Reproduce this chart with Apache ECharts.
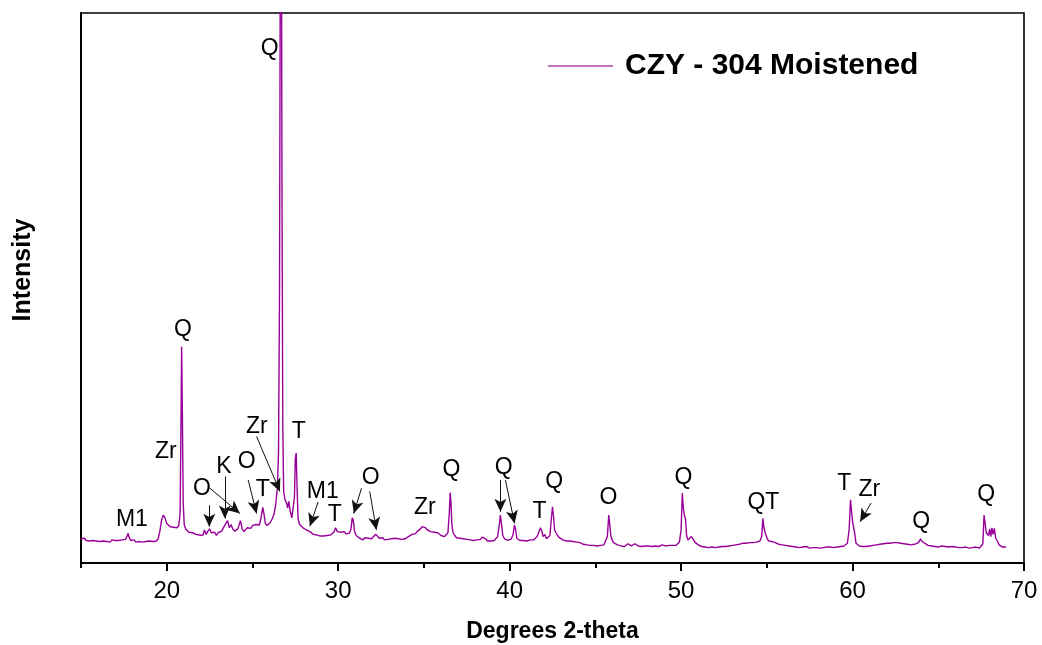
<!DOCTYPE html>
<html>
<head>
<meta charset="utf-8">
<title>CZY - 304 Moistened XRD</title>
<script src="https://cdn.jsdelivr.net/npm/echarts@6/dist/echarts.min.js"></script>
<style>
  html, body { margin: 0; padding: 0; background: #fff; }
  #chart { width: 1042px; height: 645px; }
</style>
</head>
<body>
<div id="chart"></div>
<script>
// Diffraction pattern: [2-theta (degrees), intensity (arb. units)]
const pattern = [
  [15.0,44],[15.1,42],[15.2,45],[15.3,41],[15.4,43],[15.5,40],[15.6,43],[15.7,41],[15.8,44],[15.9,40],
  [16.0,42],[16.1,39],[16.2,42],[16.3,40],[16.4,43],[16.5,39],[16.6,41],[16.7,38],[16.8,42],[16.9,39],
  [17.0,41],[17.1,38],[17.2,41],[17.3,39],[17.4,42],[17.5,40],[17.6,43],[17.7,50],[17.75,54],[17.8,47],
  [17.9,41],[18.0,39],[18.1,42],[18.2,38],[18.3,41],[18.4,39],[18.5,42],[18.6,38],[18.7,41],[18.8,39],
  [18.9,42],[19.0,40],[19.1,43],[19.2,39],[19.3,41],[19.4,40],[19.5,44],
  [19.6,58],[19.7,78],[19.8,87],[19.9,82],[20.0,72],[20.1,70],[20.2,66],[20.3,68],[20.4,65],[20.5,67],
  [20.6,64],[20.7,68],[20.78,90],[20.83,250],[20.87,393],[20.91,280],[20.96,110],[21.02,70],[21.1,62],
  [21.2,60],[21.3,56],[21.4,58],[21.5,55],[21.6,57],[21.7,52],[21.8,55],[21.9,51],[22.0,54],[22.1,50],
  [22.2,60],[22.3,52],[22.4,58],[22.5,62],[22.6,55],[22.7,52],[22.8,56],[22.9,50],[23.0,55],[23.1,53],
  [23.2,58],[23.3,60],[23.45,72],[23.55,77],[23.65,64],[23.75,70],[23.85,62],[23.95,58],[24.05,56],
  [24.15,62],[24.3,77],[24.4,62],[24.5,57],[24.6,60],[24.7,64],[24.8,66],[24.9,63],[25.0,68],[25.1,66],
  [25.2,70],[25.3,72],[25.4,69],[25.5,82],[25.6,101],[25.68,88],[25.75,72],[25.85,68],[25.95,70],
  [26.05,74],[26.15,80],[26.25,88],[26.35,105],[26.45,135],[26.52,200],[26.58,500],[26.63,1200],
  [26.68,1300],[26.72,700],[26.77,250],[26.82,130],[26.9,115],[27.0,108],[27.05,100],[27.12,112],
  [27.2,95],[27.3,82],[27.38,85],[27.45,120],[27.5,190],[27.55,200],[27.6,140],[27.66,80],[27.75,70],
  [27.85,72],[27.95,64],[28.05,66],[28.15,60],[28.25,62],[28.35,57],[28.45,55],[28.55,52],[28.65,50],
  [28.75,51],[28.85,48],[28.95,49],[29.05,47],[29.15,49],[29.25,48],[29.35,50],[29.45,49],[29.55,51],
  [29.65,52],[29.75,56],[29.85,64],[29.95,57],[30.05,55],[30.15,56],[30.25,54],[30.35,57],[30.45,53],
  [30.55,51],[30.65,54],[30.75,62],[30.82,82],[30.88,78],[30.95,58],[31.05,50],[31.15,48],[31.25,45],
  [31.35,47],[31.45,42],[31.55,46],[31.65,43],[31.75,45],[31.85,42],[31.95,44],[32.05,48],[32.2,52],
  [32.3,50],[32.4,45],[32.5,43],[32.6,46],[32.7,42],[32.8,44],[32.9,43],[33.0,46],[33.1,44],[33.2,47],
  [33.3,45],[33.4,47],[33.5,44],[33.6,45],[33.7,43],[33.8,42],[33.9,44],[34.0,45],[34.1,48],[34.2,50],
  [34.3,52],[34.4,55],[34.5,53],[34.6,57],[34.7,60],[34.8,62],[34.9,66],[35.0,67],[35.1,64],[35.2,60],
  [35.3,58],[35.4,57],[35.5,55],[35.6,56],[35.7,53],[35.8,55],[35.9,52],[36.0,50],[36.1,52],[36.2,48],
  [36.3,50],[36.4,55],[36.48,90],[36.53,128],[36.58,110],[36.63,70],[36.7,55],[36.8,50],[36.9,46],
  [37.0,44],[37.1,45],[37.2,42],[37.3,44],[37.4,41],[37.5,43],[37.6,45],[37.7,42],[37.8,43],[37.9,41],
  [38.0,44],[38.1,42],[38.2,45],[38.3,43],[38.4,47],[38.5,50],[38.6,44],[38.7,40],[38.8,41],[38.9,40],
  [39.0,42],[39.1,41],[39.2,44],[39.3,48],[39.4,70],[39.46,87],[39.52,72],[39.6,50],[39.7,44],[39.8,42],
  [39.9,41],[40.0,43],[40.1,44],[40.2,52],[40.28,69],[40.34,62],[40.42,45],[40.5,42],[40.6,41],[40.7,43],
  [40.8,41],[40.9,42],[41.0,40],[41.1,43],[41.2,42],[41.3,44],[41.4,42],[41.5,45],[41.6,48],[41.7,56],
  [41.8,64],[41.88,58],[41.95,48],[42.05,52],[42.15,44],[42.25,46],[42.35,50],[42.43,80],[42.5,102],
  [42.56,85],[42.62,60],[42.7,55],[42.8,50],[42.9,46],[43.0,44],[43.1,42],[43.2,41],[43.3,40],[43.4,38],
  [43.5,40],[43.6,37],[43.7,39],[43.8,36],[43.9,38],[44.0,35],[44.1,37],[44.2,36],[44.3,34],[44.4,36],
  [44.5,33],[44.6,35],[44.7,32],[44.8,34],[44.9,32],[45.0,33],[45.1,31],[45.2,34],[45.3,32],[45.4,34],
  [45.5,33],[45.6,36],[45.7,48],[45.78,87],[45.84,70],[45.9,50],[46.0,40],[46.1,36],[46.2,34],[46.3,33],
  [46.4,32],[46.5,31],[46.6,33],[46.7,30],[46.8,32],[46.9,35],[47.0,33],[47.1,31],[47.2,32],[47.3,35],
  [47.4,33],[47.5,31],[47.6,32],[47.7,30],[47.8,32],[47.9,31],[48.0,33],[48.1,31],[48.2,32],[48.3,30],
  [48.4,32],[48.5,31],[48.6,32],[48.7,30],[48.8,31],[48.9,33],[49.0,32],[49.1,31],[49.2,33],[49.3,32],
  [49.4,34],[49.5,32],[49.6,33],[49.7,32],[49.8,34],[49.9,38],[50.0,60],[50.07,127],[50.13,100],
  [50.2,85],[50.26,80],[50.32,50],[50.4,42],[50.5,45],[50.6,48],[50.7,44],[50.8,38],[50.9,35],[51.0,33],
  [51.1,31],[51.2,30],[51.3,28],[51.4,29],[51.5,27],[51.6,28],[51.7,27],[51.8,29],[51.9,27],[52.0,28],
  [52.1,27],[52.2,29],[52.3,28],[52.4,30],[52.5,28],[52.6,30],[52.7,29],[52.8,31],[52.9,30],[53.0,32],
  [53.1,31],[53.2,33],[53.3,32],[53.4,34],[53.5,35],[53.6,36],[53.7,37],[53.8,36],[53.9,38],[54.0,37],
  [54.1,38],[54.2,37],[54.3,39],[54.4,38],[54.5,37],[54.6,40],[54.7,48],[54.77,81],[54.83,65],[54.9,55],
  [54.96,58],[55.03,44],[55.1,40],[55.2,38],[55.3,39],[55.4,36],[55.5,37],[55.6,35],[55.7,34],[55.8,35],
  [55.9,33],[56.0,34],[56.1,32],[56.2,33],[56.3,31],[56.4,32],[56.5,30],[56.6,31],[56.7,29],[56.8,30],
  [56.9,28],[57.0,30],[57.1,29],[57.2,28],[57.3,30],[57.4,29],[57.5,27],[57.6,29],[57.7,28],[57.8,30],
  [57.9,28],[58.0,29],[58.1,27],[58.2,29],[58.3,28],[58.4,30],[58.5,29],[58.6,31],[58.7,29],[58.8,30],
  [58.9,28],[59.0,30],[59.1,29],[59.2,31],[59.3,30],[59.4,32],[59.5,31],[59.6,33],[59.7,36],[59.8,60],
  [59.88,115],[59.94,95],[60.0,75],[60.06,73],[60.12,55],[60.2,36],[60.3,33],[60.4,31],[60.5,32],[60.6,30],
  [60.7,31],[60.8,30],[60.9,32],[61.0,31],[61.1,33],[61.2,32],[61.3,34],[61.4,33],[61.5,35],[61.6,34],
  [61.7,36],[61.8,35],[61.9,37],[62.0,36],[62.1,37],[62.2,36],[62.3,38],[62.4,37],[62.5,36],[62.6,37],
  [62.7,35],[62.8,36],[62.9,34],[63.0,35],[63.1,33],[63.2,34],[63.3,32],[63.4,33],[63.5,32],[63.6,34],
  [63.7,33],[63.8,36],[63.9,40],[63.97,44],[64.03,40],[64.1,42],[64.2,36],[64.3,34],[64.4,32],[64.5,33],
  [64.6,31],[64.7,32],[64.8,30],[64.9,31],[65.0,29],[65.1,30],[65.2,31],[65.3,29],[65.4,30],[65.5,28],
  [65.6,29],[65.7,28],[65.8,30],[65.9,28],[66.0,29],[66.1,27],[66.2,28],[66.3,26],[66.4,28],[66.5,27],
  [66.6,29],[66.7,28],[66.8,27],[66.9,26],[67.0,28],[67.1,27],[67.2,29],[67.3,28],[67.4,27],[67.5,29],
  [67.6,35],[67.67,87],[67.74,70],[67.8,55],[67.87,58],[67.93,50],[68.0,62],[68.06,48],[68.13,64],
  [68.2,52],[68.27,63],[68.35,45],[68.45,40],[68.55,33],[68.65,30],[68.75,29],[68.85,30],[68.95,29]
];

// Phase labels: [text, 2-theta, intensity]
const phaseLabels = [
  ['Q', 26.01, 936], ['Q', 20.94, 424], ['Zr', 19.95, 202], ['M1', 17.97, 78],
  ['O', 22.05, 136], ['K', 23.33, 176], ['O', 24.67, 184], ['T', 25.6, 133],
  ['Zr', 25.26, 247], ['T', 27.7, 238], ['M1', 29.1, 129], ['T', 29.8, 87],
  ['O', 31.9, 156], ['Zr', 35.05, 100], ['Q', 36.6, 169], ['Q', 39.65, 173],
  ['T', 41.75, 93], ['Q', 42.6, 147], ['O', 45.77, 118], ['Q', 50.14, 156],
  ['QT', 54.8, 109], ['T', 59.52, 145], ['Zr', 60.98, 133], ['Q', 64.0, 76],
  ['Q', 67.8, 124]
];

// Pointer arrows: [from 2-theta, from intensity, to 2-theta, to intensity]
const pointers = [
  [22.48, 105, 22.48, 66],
  [22.52, 136, 24.27, 90],
  [23.39, 157, 23.39, 81],
  [24.75, 151, 25.24, 90],
  [25.24, 230, 26.60, 130],
  [28.83, 111, 28.35, 67],
  [31.36, 136, 30.91, 90],
  [31.84, 130, 32.23, 60],
  [39.46, 151, 39.46, 93],
  [39.75, 151, 40.29, 72],
  [61.08, 109, 60.44, 75]
];

const majorTicks = [20, 30, 40, 50, 60, 70];
const minorTicks = [15, 25, 35, 45, 55, 65];
const seriesName = 'CZY - 304 Moistened';

const FONT = '"Liberation Sans", Arial, Helvetica, sans-serif';
const TRACE = '#990099';

const chart = echarts.init(document.getElementById('chart'), null, { renderer: 'canvas' });

chart.setOption({
  backgroundColor: '#ffffff',
  animation: false,
  textStyle: { fontFamily: FONT, color: '#000' },
  grid: {
    left: 81, right: 18, top: 13, bottom: 82,
    outerBoundsMode: 'none',
    show: true, borderColor: '#000', borderWidth: 1.6, backgroundColor: 'transparent'
  },
  legend: {
    show: true,
    left: 548, top: 51, padding: 0,
    itemWidth: 65, itemHeight: 12,
    data: [{ name: seriesName, icon: 'path://M0,0 L100,0 L100,2 L0,2 Z' }],
    itemStyle: { color: '#b040b0' },
    textStyle: { fontFamily: FONT, fontSize: 30, fontWeight: 'bold', color: '#000', padding: [0, 0, 0, 7] }
  },
  xAxis: [
    {
      type: 'value', min: 15, max: 70,
      name: 'Degrees 2-theta', nameLocation: 'middle', nameGap: 57,
      nameTextStyle: { fontFamily: FONT, fontSize: 23, fontWeight: 'bold', color: '#000' },
      axisLine: { show: true, onZero: false, lineStyle: { color: '#000', width: 2 } },
      axisTick: { show: true, length: 8, customValues: majorTicks, lineStyle: { color: '#000', width: 2 } },
      axisLabel: { show: true, customValues: majorTicks, margin: 16, fontSize: 24, color: '#000', fontFamily: FONT },
      splitLine: { show: false }
    },
    {
      type: 'value', min: 15, max: 70, position: 'bottom',
      axisLine: { show: false, onZero: false },
      axisTick: { show: true, length: 5, customValues: minorTicks, lineStyle: { color: '#000', width: 2 } },
      axisLabel: { show: false },
      splitLine: { show: false }
    }
  ],
  yAxis: {
    type: 'value', min: 0, max: 1000,
    name: 'Intensity', nameLocation: 'middle', nameGap: 45,
    nameTextStyle: { fontFamily: FONT, fontSize: 25, fontWeight: 'bold', color: '#000', padding: [0, 0, 0, 36] },
    axisLine: { show: true, onZero: false, lineStyle: { color: '#000', width: 2 } },
    axisTick: { show: false },
    axisLabel: { show: false },
    splitLine: { show: false }
  },
  series: [
    {
      name: seriesName,
      type: 'line',
      data: pattern,
      symbol: 'none',
      clip: true,
      lineStyle: { color: TRACE, width: 1.4 },
      itemStyle: { color: TRACE },
      z: 3
    },
    {
      name: 'labels',
      type: 'scatter',
      symbolSize: 0,
      silent: true,
      itemStyle: { opacity: 1, color: '#000' },
      data: phaseLabels.map(([t, x, y]) => ({ name: t, value: [x, y] })),
      label: {
        show: true, position: 'inside', formatter: p => p.name,
        fontFamily: FONT, fontSize: 23, color: '#000', opacity: 1
      },
      markLine: {
        silent: true,
        symbol: ['none', 'arrow'],
        symbolSize: [9, 13],
        label: { show: false },
        lineStyle: { color: '#111', width: 1, type: 'solid', opacity: 1 },
        data: pointers.map(([x1, y1, x2, y2]) => [{ coord: [x1, y1] }, { coord: [x2, y2] }])
      },
      z: 4
    }
  ]
});
</script>
</body>
</html>
